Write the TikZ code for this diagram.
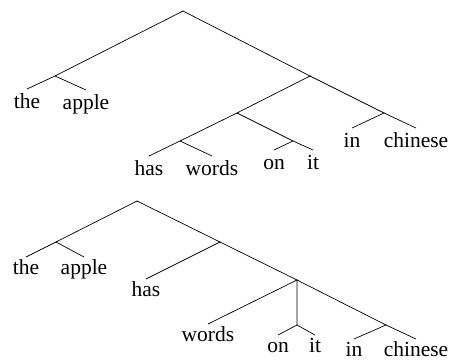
\documentclass[tikz,border=0pt]{standalone}
\usepackage{fontspec}
\setmainfont{Liberation Serif}
\begin{document}
\begin{tikzpicture}[x=1pt,y=-1pt, line width=0.7pt,
  leaf/.style={anchor=north, inner xsep=0pt, inner ysep=5pt, text height=14pt, text depth=4pt, font=\fontsize{21.5}{25}\selectfont},
  leafb/.style={leaf, inner ysep=3pt}]
\useasboundingbox (0,0) rectangle (451,361);
% ---------- top tree ----------
\coordinate (r1) at (183,11);
\coordinate (a1) at (55,76);
\node[leaf] (the1) at (27,89) {the};
\node[leaf] (apple1) at (86,90) {apple};
\coordinate (v1) at (310,76);
\coordinate (vp1) at (237,113);
\coordinate (hw1) at (180,141);
\node[leaf] (has1) at (149,156) {has};
\node[leaf] (words1) at (212,156) {words};
\coordinate (oi1) at (293,141);
\node[leaf] (on1) at (274,150) {on};
\node[leaf] (it1) at (313,150) {it};
\coordinate (ic1) at (384,113);
\node[leaf] (in1) at (352,128) {in};
\node[leaf] (chinese1) at (416,128) {chinese};
\draw (r1) -- (a1) -- (the1.north);
\draw (a1) -- (apple1.north);
\draw (r1) -- (v1) -- (vp1) -- (hw1) -- (has1.north);
\draw (hw1) -- (words1.north);
\draw (vp1) -- (oi1) -- (on1.north);
\draw (oi1) -- (it1.north);
\draw (v1) -- (ic1) -- (in1.north);
\draw (ic1) -- (chinese1.north);
% ---------- bottom tree ----------
\coordinate (r2) at (137,201);
\coordinate (a2) at (56,242);
\node[leafb] (the2) at (26,257) {the};
\node[leafb] (apple2) at (84,257) {apple};
\coordinate (b2) at (220,242);
\node[leafb] (has2) at (146,279) {has};
\coordinate (c2) at (297,280);
\node[leafb] (words2) at (208,324) {words};
\coordinate (oi2) at (297,325);
\node[leafb] (on2) at (278,335) {on};
\node[leafb] (it2) at (315,335) {it};
\coordinate (d2) at (386,325);
\node[leafb] (in2) at (354,339) {in};
\node[leafb] (chinese2) at (416,339) {chinese};
\draw (r2) -- (a2) -- (the2.north);
\draw (a2) -- (apple2.north);
\draw (r2) -- (b2) -- (has2.north);
\draw (b2) -- (c2) -- (words2.north);
\draw (c2) -- (oi2) -- (on2.north);
\draw (oi2) -- (it2.north);
\draw (c2) -- (d2) -- (in2.north);
\draw (d2) -- (chinese2.north);
\end{tikzpicture}
\end{document}
